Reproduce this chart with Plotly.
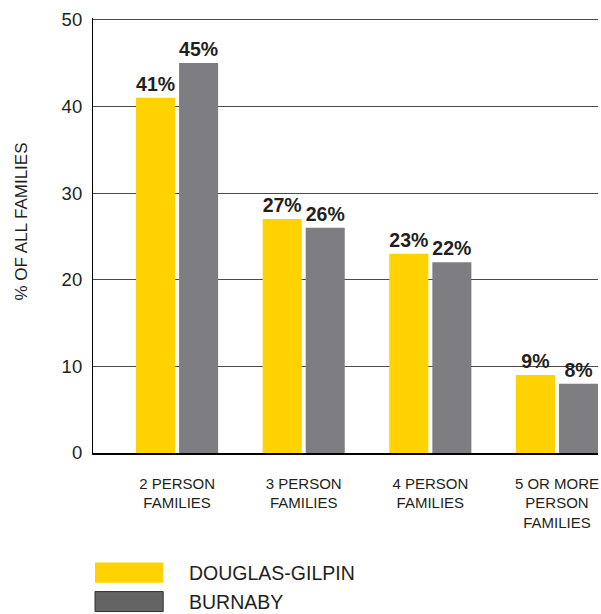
import plotly.graph_objects as go

categories = ["2 PERSON<br>FAMILIES", "3 PERSON<br>FAMILIES", "4 PERSON<br>FAMILIES", "5 OR MORE<br>PERSON<br>FAMILIES"]
douglas_gilpin = [41, 27, 23, 9]
burnaby = [45, 26, 22, 8]
series_names = ["DOUGLAS-GILPIN", "BURNABY"]
y_ticks = [0, 10, 20, 30, 40, 50]

YELLOW = "#FFD200"
GRAY = "#7E7E82"
TEXT = "#231F20"
FONT = "Liberation Sans, Arial, Helvetica, sans-serif"

x = list(range(len(categories)))

fig = go.Figure()
for name, vals, col in [(series_names[0], douglas_gilpin, YELLOW), (series_names[1], burnaby, GRAY)]:
    fig.add_trace(go.Bar(
        x=x, y=vals, name=name, marker=dict(color=col, line=dict(width=0)),
        text=[f"<b>{v}%</b>" for v in vals], textposition="outside",
        textfont=dict(size=19.5, color=TEXT, family=FONT), cliponaxis=False,
        showlegend=False, hoverinfo="skip",
    ))

fig.update_layout(
    width=601, height=614,
    margin=dict(l=93, r=3, t=18, b=161),
    paper_bgcolor="white", plot_bgcolor="white",
    barmode="group", bargap=0.32, bargroupgap=0.093,
    font=dict(family=FONT, color=TEXT),
    xaxis=dict(
        tickmode="array", tickvals=x, ticktext=categories,
        range=[-0.664, 3.324], showgrid=False, showline=True,
        linecolor="#000", linewidth=1.5, ticks="", ticklabelstandoff=16,
        tickfont=dict(size=15, color=TEXT), zeroline=False,
    ),
    yaxis=dict(
        range=[0, 50.2], tickvals=y_ticks, showgrid=True, gridcolor="#4a4a4a",
        gridwidth=1, showline=True, linecolor="#000", linewidth=1.2,
        ticks="", tickfont=dict(size=18.5, color=TEXT), ticklabelstandoff=6,
        zeroline=False,
    ),
)

fig.add_annotation(xref="paper", yref="paper", x=-0.1406, y=0.532,
                   text="% OF ALL FAMILIES", textangle=-90, showarrow=False,
                   xanchor="center", yanchor="middle",
                   font=dict(size=17, color=TEXT, family=FONT))

# Custom legend (large swatches)
legend_items = [(series_names[0], YELLOW, "rgba(0,0,0,0)"), (series_names[1], "#646464", "#333333")]
for i, (name, col, border) in enumerate(legend_items):
    y0 = -0.252 - i * 0.0665
    fig.add_shape(type="rect", xref="paper", yref="paper",
                  x0=0.004, x1=0.139, y0=y0 - 0.046, y1=y0,
                  fillcolor=col, line=dict(color=border, width=1))
    fig.add_annotation(xref="paper", yref="paper", x=0.186, y=y0 - 0.023,
                       text=name, showarrow=False, xanchor="left", yanchor="middle",
                       font=dict(size=19.5, color=TEXT, family=FONT))

fig.write_html("out.html", config={"displayModeBar": False},
               post_script="document.body.style.margin='0';document.body.style.padding='0';document.body.style.overflow='hidden';")
